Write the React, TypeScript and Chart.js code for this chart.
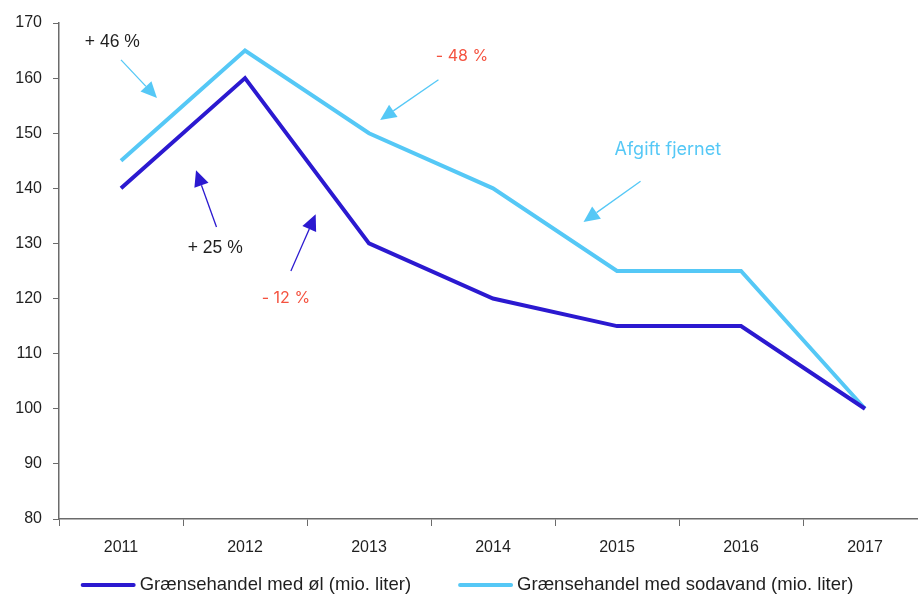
import React, { useEffect, useRef } from "react";
import { Chart, registerables } from "chart.js";

Chart.register(...registerables);

const years = ["2011", "2012", "2013", "2014", "2015", "2016", "2017"];
const beer = [140, 160, 130, 120, 115, 115, 100];
const soda = [145, 165, 150, 140, 125, 125, 100];
const beerLabel = "Grænsehandel med øl (mio. liter)";
const sodaLabel = "Grænsehandel med sodavand (mio. liter)";

const BEER_COLOR = "#2b19d0";
const SODA_COLOR = "#55c8f6";
const RED = "#f4523f";
const AXIS = "#6b6b6b";
const TEXT = "#1f1f1f";
const SANS = "'Liberation Sans', Arial, sans-serif";
const ALT = "Inter, 'Noto Sans', sans-serif";

// annotations: text anchored in data space (category index, value), arrow from -> to in data space
const noteTexts = ["+ 46 %", "+ 25 %", "- 12 %", "- 48 %", "Afgift fjernet"];
const noteTextAt = [[-0.07, 166.5], [0.76, 129.2], [1.33, 120.1], [2.75, 164.0], [4.41, 147.0]];
const noteArrowFrom = [[0.0, 163.3], [0.77, 133.0], [1.37, 125.0], [2.56, 159.7], [4.19, 141.3]];
const noteArrowTo = [[0.29, 156.4], [0.605, 143.3], [1.57, 135.3], [2.09, 152.4], [3.73, 133.9]];
const noteTextColors = [TEXT, TEXT, RED, RED, SODA_COLOR];
const noteArrowColors = [SODA_COLOR, BEER_COLOR, BEER_COLOR, SODA_COLOR, SODA_COLOR];
const noteFonts = [`17.5px ${SANS}`, `17.5px ${SANS}`, `16px ${ALT}`, `16px ${ALT}`, `18px ${ALT}`];

function drawArrow(ctx: CanvasRenderingContext2D, x1: number, y1: number, x2: number, y2: number, color: string) {
  const ang = Math.atan2(y2 - y1, x2 - x1);
  const headLen = 16;
  const headHalf = 7.5;
  const bx = x2 - headLen * Math.cos(ang);
  const by = y2 - headLen * Math.sin(ang);
  ctx.save();
  ctx.strokeStyle = color;
  ctx.fillStyle = color;
  ctx.lineWidth = 1.3;
  ctx.beginPath();
  ctx.moveTo(x1, y1);
  ctx.lineTo(bx, by);
  ctx.stroke();
  ctx.beginPath();
  ctx.moveTo(x2, y2);
  ctx.lineTo(bx + headHalf * Math.sin(ang), by - headHalf * Math.cos(ang));
  ctx.lineTo(bx - headHalf * Math.sin(ang), by + headHalf * Math.cos(ang));
  ctx.closePath();
  ctx.fill();
  ctx.restore();
}

const annotationPlugin = {
  id: "notes",
  afterDatasetsDraw(chart: any) {
    const ctx = chart.ctx as CanvasRenderingContext2D;
    const xs = chart.scales.x;
    const ys = chart.scales.y;
    const px = (i: number) => {
      const a = xs.getPixelForValue(0);
      const b = xs.getPixelForValue(1);
      return a + (b - a) * i;
    };
    noteTexts.forEach((t, k) => {
      const [fx, fy] = noteArrowFrom[k];
      const [tx, ty] = noteArrowTo[k];
      drawArrow(ctx, px(fx), ys.getPixelForValue(fy), px(tx), ys.getPixelForValue(ty), noteArrowColors[k]);
      const [lx, ly] = noteTextAt[k];
      ctx.save();
      ctx.font = noteFonts[k];
      ctx.fillStyle = noteTextColors[k];
      ctx.textAlign = "center";
      ctx.textBaseline = "middle";
      ctx.fillText(t, px(lx), ys.getPixelForValue(ly));
      ctx.restore();
    });
  },
};

const legendPlugin = {
  id: "customLegend",
  afterDraw(chart: any) {
    const ctx = chart.ctx as CanvasRenderingContext2D;
    const items = chart.data.datasets.map((d: any) => ({ label: d.label, color: d.borderColor }));
    ctx.save();
    ctx.font = `18.5px ${SANS}`;
    const lineLen = 55;
    const gap = 4;
    const itemGap = 47;
    const widths = items.map((it: any) => lineLen + gap + ctx.measureText(it.label).width);
    const total = widths.reduce((a: number, b: number) => a + b, 0) + itemGap * (items.length - 1);
    let x = 467 - total / 2;
    const y = 585;
    items.forEach((it: any, i: number) => {
      ctx.strokeStyle = it.color;
      ctx.lineWidth = 4;
      ctx.lineCap = "round";
      ctx.beginPath();
      ctx.moveTo(x + 2, y);
      ctx.lineTo(x + lineLen - 2, y);
      ctx.stroke();
      ctx.fillStyle = TEXT;
      ctx.textAlign = "left";
      ctx.textBaseline = "alphabetic";
      ctx.fillText(it.label, x + lineLen + gap, 590);
      x += widths[i] + itemGap;
    });
    ctx.restore();
  },
};

export default function App() {
  const ref = useRef<HTMLCanvasElement | null>(null);
  useEffect(() => {
    document.body.style.margin = "0";
    const canvas = ref.current!;
    const chart = new Chart(canvas, {
      type: "line",
      data: {
        labels: years,
        datasets: [
          {
            label: beerLabel,
            data: beer,
            borderColor: BEER_COLOR,
            backgroundColor: BEER_COLOR,
            borderWidth: 4,
            pointRadius: 0,
            tension: 0,
            borderJoinStyle: "miter",
          },
          {
            label: sodaLabel,
            data: soda,
            borderColor: SODA_COLOR,
            backgroundColor: SODA_COLOR,
            borderWidth: 4,
            pointRadius: 0,
            tension: 0,
            borderJoinStyle: "miter",
          },
        ],
      },
      options: {
        responsive: false,
        animation: false,
        devicePixelRatio: 1,
        layout: { padding: { top: 23, left: 0, right: 0, bottom: 0 } },
        plugins: { legend: { display: false }, tooltip: { enabled: false } },
        scales: {
          x: {
            type: "category",
            offset: true,
            grid: { offset: true, drawOnChartArea: false, drawTicks: true, tickLength: 7, color: AXIS },
            border: { display: true, color: AXIS, width: 1.5 },
            ticks: { color: TEXT, font: { family: SANS, size: 16 }, padding: 12, maxRotation: 0 },
            afterFit(s: any) {
              s.height = 75;
            },
          },
          y: {
            min: 80,
            max: 170,
            grid: { drawOnChartArea: false, drawTicks: true, tickLength: 6, color: AXIS },
            border: { display: true, color: AXIS, width: 1.5 },
            ticks: { stepSize: 10, color: TEXT, font: { family: SANS, size: 16 }, padding: 11 },
            afterFit(s: any) {
              s.width = 59;
            },
          },
        },
      },
      plugins: [annotationPlugin, legendPlugin],
    } as any);
    return () => chart.destroy();
  }, []);
  return (
    <div style={{ width: 918, height: 594, overflow: "hidden", position: "relative", background: "#fff" }}>
      <canvas ref={ref} width={927} height={594} style={{ display: "block", width: 927, height: 594 }} />
    </div>
  );
}
